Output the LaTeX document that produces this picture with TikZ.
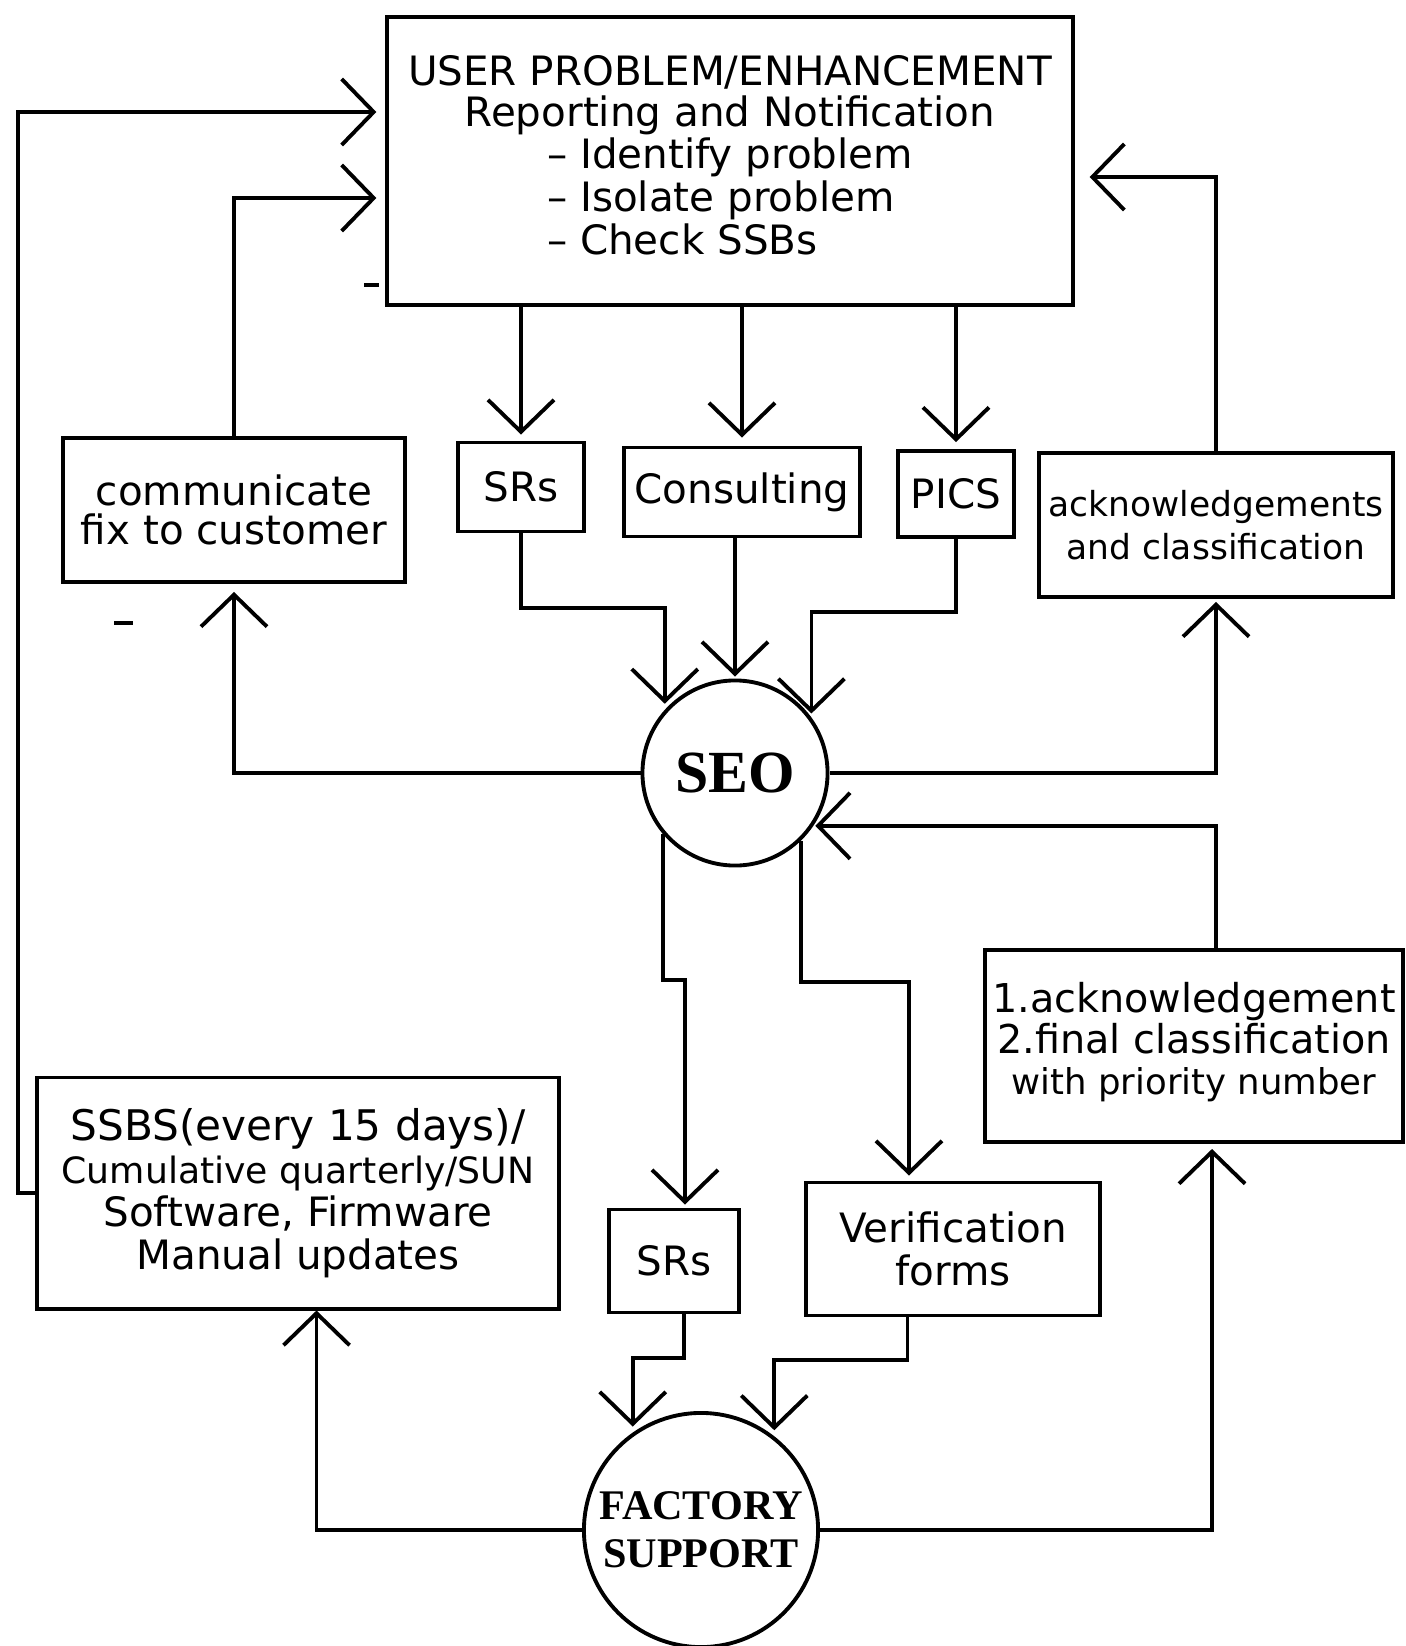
\documentclass[tikz,border=0pt]{standalone}
\usepackage{fontspec}
\usetikzlibrary{
    arrows.meta,
    calc
}
\newfontfamily\boxfont{DejaVu Sans}[Ligatures=TeX]
\newfontfamily\hubfont{Liberation Serif}

\tikzset{
    box/.style={draw, line width=1.1pt, align=center, inner sep=2pt,
        font={\boxfont\fontsize{11.5}{12}\selectfont}},
    hub/.style={draw, circle, line width=1.1pt, align=center, inner sep=0pt},
    flow/.style={line width=1.1pt, -{Straight Barb[length=3.2mm, width=6.6mm]}},
}

\begin{document}
\begin{tikzpicture}[x=0.01cm, y=-0.01cm]
    \useasboundingbox (0,0) rectangle (1405,1646);

    \node[box, minimum width=6.85cm, minimum height=2.88cm,
        font={\boxfont\fontsize{11.5}{11.8}\selectfont}] (user) at (730,161)
        {USER PROBLEM/ENHANCEMENT\\Reporting and Notification\\
         \begin{tabular}[t]{@{}l@{}}\textendash\ Identify problem\\\textendash\ Isolate problem\\\textendash\ Check SSBs\end{tabular}};

    \node[box, minimum width=3.42cm, minimum height=1.44cm,
        font={\boxfont\fontsize{11.5}{11.2}\selectfont}] (comm) at (234,510) {communicate\\fix to customer};
    \node[box, minimum width=1.26cm, minimum height=0.89cm] (srs1) at (521,487) {SRs};
    \node[box, minimum width=2.36cm, minimum height=0.89cm] (consult) at (742,492) {Consulting};
    \node[box, minimum width=1.16cm, minimum height=0.86cm] (pics) at (956,494) {PICS};
    \node[box, minimum width=3.53cm, minimum height=1.44cm,
        font={\boxfont\fontsize{9.8}{12.3}\selectfont}] (ack) at (1216,525)
        {acknowledgements\\and classification};

    \node[hub, minimum size=1.85cm, font={\hubfont\bfseries\fontsize{17}{20}\selectfont}] (seo) at (735,773) {SEO};

    \node[box, minimum width=4.16cm, minimum height=1.92cm,
        font={\boxfont\fontsize{11.3}{11.6}\selectfont}] (prio) at (1194,1046)
        {1.acknowledgement\\2.final classification\\{\fontsize{10.1}{11}\selectfont with priority number}\rule[-0.15cm]{0pt}{0pt}};
    \node[box, minimum width=2.93cm, minimum height=1.33cm] (verif) at (953,1249) {Verification\\forms};
    \node[box, minimum width=1.30cm, minimum height=1.03cm] (srs2) at (674,1261) {SRs};
    \node[box, minimum width=5.21cm, minimum height=2.31cm,
        font={\boxfont\fontsize{11.5}{12.2}\selectfont}] (ssbs) at (298,1193)
        {{\fontsize{12}{12.2}\selectfont SSBS(every 15 days)/}\\
         {\fontsize{10.3}{12.2}\selectfont Cumulative quarterly/SUN}\\
         Software, Firmware\\Manual updates};

    \node[hub, minimum size=2.34cm, font={\hubfont\bfseries\fontsize{12}{13.6}\selectfont}] (factory) at (701,1530) {FACTORY\\SUPPORT};

    \coordinate (srs2in) at ([xshift=0.11cm]srs2.north);
    \coordinate (srs2out) at ([xshift=0.1cm]srs2.south);
    \coordinate (verifin) at ([xshift=-0.44cm]verif.north);
    \coordinate (verifout) at ([xshift=-0.455cm]verif.south);
    \coordinate (prioin) at ([xshift=0.18cm]prio.south);
    \coordinate (prioout) at ([xshift=0.22cm]prio.north);
    \coordinate (ssbsin) at ([xshift=0.185cm]ssbs.south);

    \draw[flow, shorten >=0.09cm] (ssbs.west) -| (18,112) -- (user.west |- 18,112);
    \draw[flow, shorten >=0.09cm] (comm.north) |- (user.west |- 0,198);
    \draw[flow, shorten >=0.15cm] (ack.north) |- (user.east |- 0,177);

    \draw[flow, shorten >=0.06cm] (srs1.north |- user.south) -- (srs1.north);
    \draw[flow, shorten >=0.08cm] (consult.north |- user.south) -- (consult.north);
    \draw[flow, shorten >=0.07cm] (pics.north |- user.south) -- (pics.north);

    \draw[flow, shorten >=0.06cm] (srs1.south) |- (seo.138 |- 0,608) -- (seo.138);
    \draw[flow, shorten >=0.02cm] (consult.south -| seo.north) -- (seo.north);
    \draw[flow, shorten >=0.04cm] (pics.south) |- (seo.36 |- 0,612) -- (seo.36);

    \draw[flow, shorten >=0.08cm] (seo.west) -| (comm.south);
    \draw[flow, shorten >=0.03cm] (seo.east) -| (ack.south);

    \draw[flow, shorten >=0.03cm] (seo.220) |- (srs2in |- 0,980) -- (srs2in);
    \draw[flow, shorten >=0.05cm] (seo.314) |- (verifin |- 0,982) -- (verifin);
    \draw[flow, shorten >=0.02cm] (prioout) |- (seo.326);

    \draw[flow, shorten >=0.06cm] (srs2out) |- (factory.125 |- 0,1358) -- (factory.125);
    \draw[flow, shorten >=0.06cm] (verifout) |- (factory.52 |- 0,1360) -- (factory.52);
    \draw[flow] (factory.west) -| (ssbsin);
    \draw[flow, shorten >=0.05cm] (factory.east) -| (prioin);

    \draw[line width=1.3pt] (114,623) -- (133,623);
    \draw[line width=1.3pt] (364,285) -- (379,285);
\end{tikzpicture}
\end{document}
